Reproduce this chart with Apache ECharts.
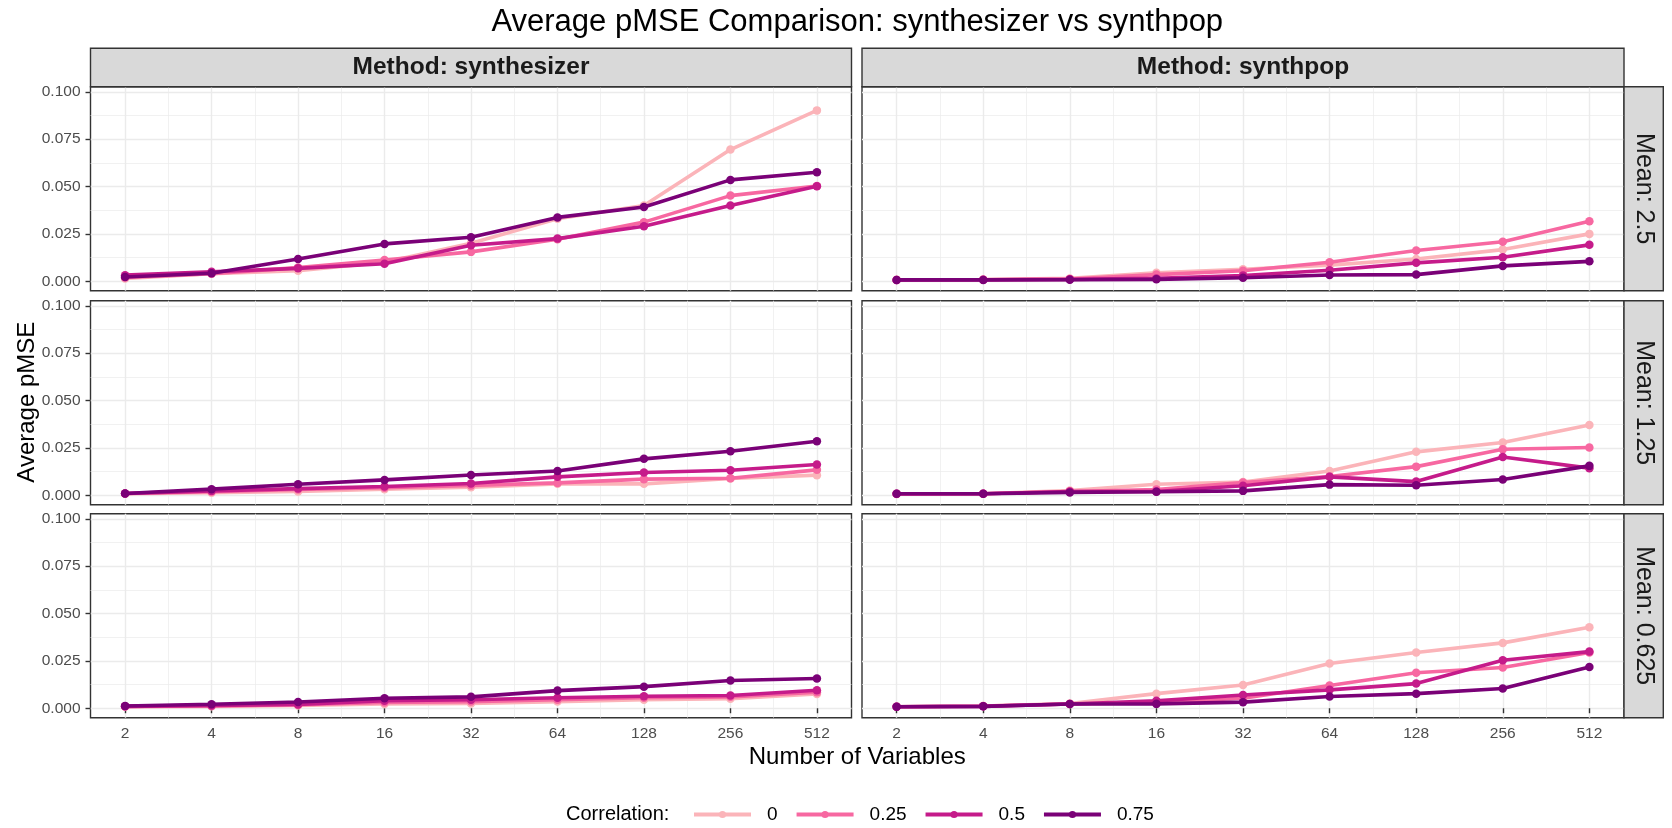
<!DOCTYPE html>
<html>
<head>
<meta charset="utf-8">
<title>Average pMSE Comparison</title>
<script src="https://cdn.jsdelivr.net/npm/echarts@6/dist/echarts.min.js"></script>
<style>
  html, body { margin: 0; padding: 0; background: #ffffff; }
  #chart { width: 1672px; height: 828px; }
</style>
</head>
<body>
<div id="chart"></div>
<script>
// Number of variables (x axis, log2 spaced)
const numVars = [2, 4, 8, 16, 32, 64, 128, 256, 512];
const correlations = ['0', '0.25', '0.5', '0.75'];
const methods = ['synthesizer', 'synthpop'];
const means = ['2.5', '1.25', '0.625'];
const yTicks = [0, 0.025, 0.05, 0.075, 0.1];
const yMinorTicks = [0.0125, 0.0375, 0.0625, 0.0875];

// Average pMSE per correlation (rows: 0, 0.25, 0.5, 0.75), one array per facet
const synthesizerMean2_5 = [
  [0.0015, 0.0040, 0.0055, 0.0100, 0.0200, 0.0330, 0.0400, 0.0695, 0.0902],
  [0.0020, 0.0040, 0.0072, 0.0112, 0.0155, 0.0222, 0.0312, 0.0452, 0.0503],
  [0.0032, 0.0050, 0.0068, 0.0092, 0.0190, 0.0225, 0.0290, 0.0400, 0.0502],
  [0.0022, 0.0042, 0.0117, 0.0197, 0.0232, 0.0337, 0.0392, 0.0535, 0.0575]
];
const synthpopMean2_5 = [
  [0.0008, 0.0009, 0.0015, 0.0045, 0.0063, 0.0085, 0.0117, 0.0167, 0.0250],
  [0.0007, 0.0008, 0.0012, 0.0035, 0.0055, 0.0100, 0.0162, 0.0208, 0.0317],
  [0.0007, 0.0008, 0.0010, 0.0015, 0.0030, 0.0058, 0.0097, 0.0127, 0.0192],
  [0.0007, 0.0007, 0.0008, 0.0010, 0.0018, 0.0033, 0.0035, 0.0081, 0.0105]
];
const synthesizerMean1_25 = [
  [0.0008, 0.0013, 0.0020, 0.0032, 0.0042, 0.0060, 0.0060, 0.0088, 0.0106],
  [0.0009, 0.0018, 0.0030, 0.0040, 0.0052, 0.0065, 0.0085, 0.0090, 0.0134],
  [0.0009, 0.0023, 0.0035, 0.0046, 0.0062, 0.0097, 0.0120, 0.0132, 0.0162],
  [0.0009, 0.0032, 0.0058, 0.0081, 0.0107, 0.0128, 0.0192, 0.0232, 0.0285]
];
const synthpopMean1_25 = [
  [0.0008, 0.0008, 0.0025, 0.0058, 0.0070, 0.0128, 0.0229, 0.0278, 0.0371],
  [0.0006, 0.0008, 0.0020, 0.0030, 0.0067, 0.0099, 0.0151, 0.0243, 0.0252],
  [0.0008, 0.0008, 0.0020, 0.0020, 0.0050, 0.0097, 0.0072, 0.0202, 0.0143],
  [0.0008, 0.0008, 0.0015, 0.0018, 0.0023, 0.0056, 0.0053, 0.0083, 0.0155]
];
const synthesizerMean0_625 = [
  [0.0008, 0.0010, 0.0015, 0.0022, 0.0025, 0.0035, 0.0045, 0.0050, 0.0075],
  [0.0010, 0.0012, 0.0018, 0.0030, 0.0035, 0.0045, 0.0055, 0.0060, 0.0085],
  [0.0010, 0.0015, 0.0020, 0.0040, 0.0045, 0.0055, 0.0063, 0.0067, 0.0095],
  [0.0012, 0.0021, 0.0033, 0.0053, 0.0060, 0.0093, 0.0114, 0.0146, 0.0157]
];
const synthpopMean0_625 = [
  [0.0008, 0.0012, 0.0025, 0.0077, 0.0123, 0.0236, 0.0294, 0.0345, 0.0428],
  [0.0008, 0.0012, 0.0022, 0.0030, 0.0053, 0.0120, 0.0187, 0.0215, 0.0294],
  [0.0008, 0.0010, 0.0022, 0.0039, 0.0070, 0.0097, 0.0130, 0.0253, 0.0299],
  [0.0008, 0.0010, 0.0022, 0.0023, 0.0032, 0.0062, 0.0077, 0.0104, 0.0218]
];

// facet lookup: [row][col]
const facetData = [
  [synthesizerMean2_5, synthpopMean2_5],
  [synthesizerMean1_25, synthpopMean1_25],
  [synthesizerMean0_625, synthpopMean0_625]
];

const corrColors = ['#FBB4B9', '#F768A1', '#C51B8A', '#7A0177'];

const FONT = '"Liberation Sans", Arial, Helvetica, sans-serif';
const colBoxes = [{ left: 90.5, width: 761 }, { left: 862, width: 762 }];
const rowBoxes = [{ top: 86.7, height: 204 }, { top: 300.7, height: 204 }, { top: 513.7, height: 204 }];
const stripTop = 48.3;
const stripRightW = 39.3;

const xMajor = numVars.map(v => Math.log2(v));
const xMinor = xMajor.slice(0, -1).map(v => v + 0.5);

const grids = [], xAxes = [], yAxes = [], series = [];
let gi = 0;
for (let r = 0; r < rowBoxes.length; r++) {
  for (let c = 0; c < colBoxes.length; c++) {
    grids.push({
      left: colBoxes[c].left, top: rowBoxes[r].top,
      width: colBoxes[c].width, height: rowBoxes[r].height,
      show: true, backgroundColor: '#ffffff',
      borderColor: '#333333', borderWidth: 1.4, containLabel: false
    });
    const bottomRow = r === rowBoxes.length - 1;
    const leftCol = c === 0;
    // major x axis
    xAxes.push({
      type: 'value', gridIndex: gi, min: 0.6, max: 9.4,
      axisLine: { show: false },
      axisTick: { show: bottomRow, customValues: xMajor, length: 5, lineStyle: { color: '#333333', width: 1.4 } },
      axisLabel: {
        show: bottomRow, customValues: xMajor, margin: 8,
        formatter: v => String(Math.round(Math.pow(2, v))),
        color: '#4D4D4D', fontSize: 15.5, fontFamily: FONT
      },
      splitLine: { show: true, lineStyle: { color: '#EBEBEB', width: 1.4 } }
    });
    // minor x grid
    xAxes.push({
      type: 'value', gridIndex: gi, min: 0.6, max: 9.4,
      axisLine: { show: false },
      axisTick: { show: false, customValues: xMinor },
      axisLabel: { show: false, customValues: xMinor },
      splitLine: { show: true, lineStyle: { color: '#EBEBEB', width: 0.7 } }
    });
    // major y axis
    yAxes.push({
      type: 'value', gridIndex: gi, min: -0.005, max: 0.1027,
      axisLine: { show: false },
      axisTick: { show: leftCol, customValues: yTicks, length: 5, lineStyle: { color: '#333333', width: 1.4 } },
      axisLabel: {
        show: leftCol, customValues: yTicks, margin: 10,
        formatter: v => v.toFixed(3),
        color: '#4D4D4D', fontSize: 15.5, fontFamily: FONT
      },
      splitLine: { show: true, lineStyle: { color: '#EBEBEB', width: 1.4 } }
    });
    // minor y grid
    yAxes.push({
      type: 'value', gridIndex: gi, min: -0.005, max: 0.1027,
      axisLine: { show: false },
      axisTick: { show: false, customValues: yMinorTicks },
      axisLabel: { show: false, customValues: yMinorTicks },
      splitLine: { show: true, lineStyle: { color: '#EBEBEB', width: 0.7 } }
    });
    const panel = facetData[r][c];
    for (let k = 0; k < correlations.length; k++) {
      series.push({
        name: correlations[k], type: 'line',
        xAxisIndex: gi * 2, yAxisIndex: gi * 2,
        data: numVars.map((n, i) => [Math.log2(n), panel[k][i]]),
        symbol: 'circle', symbolSize: 8.5, showSymbol: true,
        color: corrColors[k],
        lineStyle: { width: 3.6, color: corrColors[k] },
        itemStyle: { color: corrColors[k] },
        emphasis: { disabled: true },
        z: 3 + k
      });
    }
    gi++;
  }
}

// facet strips and titles
const graphics = [];
for (let c = 0; c < colBoxes.length; c++) {
  const b = colBoxes[c];
  graphics.push({
    type: 'rect', z: 10,
    shape: { x: b.left, y: stripTop, width: b.width, height: rowBoxes[0].top - stripTop },
    style: { fill: '#D9D9D9', stroke: '#333333', lineWidth: 1.4 }
  });
  graphics.push({
    type: 'text', z: 11,
    x: b.left + b.width / 2, y: (stripTop + rowBoxes[0].top) / 2,
    style: {
      text: 'Method: ' + methods[c], fill: '#1A1A1A',
      font: 'bold 24.5px ' + FONT, align: 'center', verticalAlign: 'middle'
    }
  });
}
const stripX = colBoxes[1].left + colBoxes[1].width;
for (let r = 0; r < rowBoxes.length; r++) {
  const b = rowBoxes[r];
  graphics.push({
    type: 'rect', z: 10,
    shape: { x: stripX, y: b.top, width: stripRightW, height: b.height },
    style: { fill: '#D9D9D9', stroke: '#333333', lineWidth: 1.4 }
  });
  graphics.push({
    type: 'text', z: 11,
    x: stripX + stripRightW / 2, y: b.top + b.height / 2,
    rotation: -Math.PI / 2,
    style: {
      text: 'Mean: ' + means[r], fill: '#1A1A1A',
      font: '25px ' + FONT, align: 'center', verticalAlign: 'middle'
    }
  });
}
const panelsCenterX = (colBoxes[0].left + colBoxes[1].left + colBoxes[1].width) / 2;
const panelsCenterY = (rowBoxes[0].top + rowBoxes[2].top + rowBoxes[2].height) / 2;
graphics.push({
  type: 'text', x: panelsCenterX, y: 22,
  style: { text: 'Average pMSE Comparison: synthesizer vs synthpop', fill: '#000000',
    font: '31px ' + FONT, align: 'center', verticalAlign: 'middle' }
});
graphics.push({
  type: 'text', x: panelsCenterX, y: 757,
  style: { text: 'Number of Variables', fill: '#000000',
    font: '24px ' + FONT, align: 'center', verticalAlign: 'middle' }
});
graphics.push({
  type: 'text', x: 27, y: panelsCenterY, rotation: Math.PI / 2,
  style: { text: 'Average pMSE', fill: '#000000',
    font: '24px ' + FONT, align: 'center', verticalAlign: 'middle' }
});
graphics.push({
  type: 'text', x: 566, y: 814,
  style: { text: 'Correlation:', fill: '#000000',
    font: '20px ' + FONT, align: 'left', verticalAlign: 'middle' }
});

const chart = echarts.init(document.getElementById('chart'), null, { renderer: 'canvas' });
chart.setOption({
  animation: false,
  backgroundColor: '#ffffff',
  grid: grids,
  xAxis: xAxes,
  yAxis: yAxes,
  series: series,
  legend: {
    data: correlations,
    left: 692, top: 805, padding: 0,
    orient: 'horizontal',
    itemWidth: 57, itemHeight: 9, itemGap: 17,
    lineStyle: { width: 4 },
    textStyle: { fontSize: 19, fontFamily: FONT, color: '#000000', padding: [0, 0, 0, 11] },
    selectedMode: false
  },
  graphic: graphics
});
</script>
</body>
</html>
